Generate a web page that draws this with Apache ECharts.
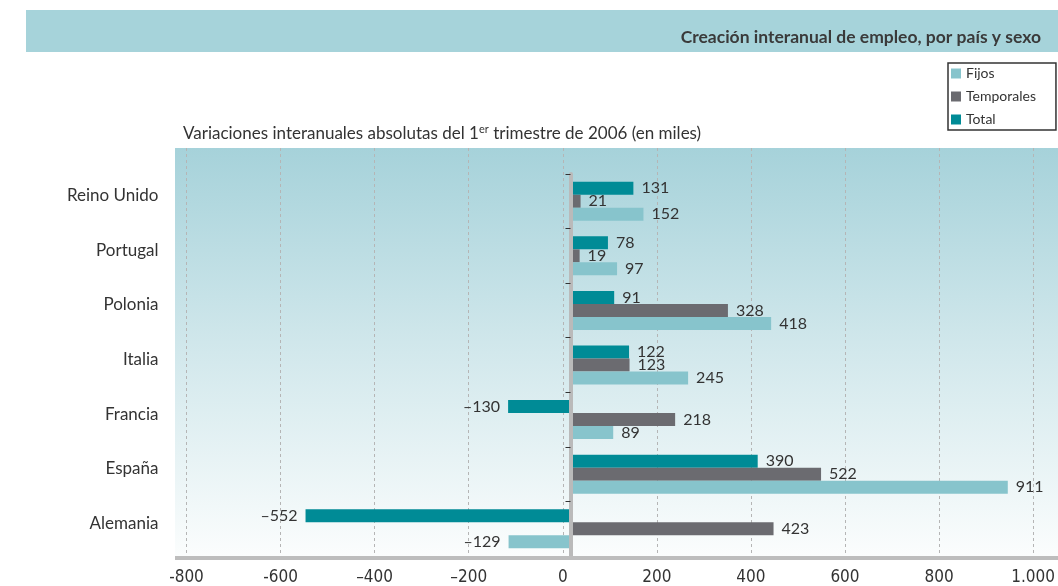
<!DOCTYPE html>
<html lang="es">
<head>
    <meta charset="UTF-8">
    <title>Creación interanual de empleo</title>
    <script src="https://cdn.jsdelivr.net/npm/echarts@6/dist/echarts.min.js"></script>
    <style>
        html, body { margin: 0; padding: 0; background: #fff; }
        #main { width: 1058px; height: 586px; }
    </style>
</head>
<body>
    <div id="main"></div>
    <script type="text/javascript">
        // datos (miles)
        var paises = ['Alemania', 'España', 'Francia', 'Italia', 'Polonia', 'Portugal', 'Reino Unido']
        var fijos = [-129, 911, 89, 245, 418, 97, 152]
        var temporales = [423, 522, 218, 123, 328, 19, 21]
        var total = [-552, 390, -130, 122, 91, 78, 131]
        var ejeX = { min: -800, max: 1000, paso: 200 }

        var colores = { fijos: '#87c4cc', temporales: '#6b6b70', total: '#008b96' }
        var fuente = 'Lato, "Noto Sans", sans-serif'

        var conEtiqueta = arr => arr.map(v => ({
            value: v,
            label: { position: v < 0 ? 'left' : 'right' }
        }))

        var etiquetaBarra = {
            show: true,
            distance: 8,
            fontFamily: fuente,
            fontSize: 16,
            color: '#333',
            formatter: p => String(p.value).replace('-', '–')
        }

        var serie = (nombre, datos, color) => ({
            name: nombre,
            type: 'bar',
            xAxisIndex: 0,
            yAxisIndex: 0,
            barWidth: 13,
            barGap: '0%',
            itemStyle: { color: color },
            label: etiquetaBarra,
            data: conEtiqueta(datos)
        })

        var myChart = echarts.init(document.getElementById('main'))

        var option = {
            animation: false,
            title: [{
                text: 'Creación interanual de empleo, por país y sexo',
                right: 12,
                top: 23,
                textStyle: { fontFamily: fuente, fontSize: 17.5, fontWeight: 'bold', color: '#3a3a3a' }
            }, {
                text: '{n|Variaciones interanuales absolutas del 1}{s|er}{n| trimestre de 2006 (en miles)}',
                left: 178,
                top: 119,
                textStyle: {
                    fontWeight: 'normal',
                    rich: {
                        n: { fontFamily: fuente, fontSize: 17, fontWeight: 'normal', color: '#333', lineHeight: 20 },
                        s: { fontFamily: fuente, fontSize: 11, fontWeight: 'normal', color: '#333', lineHeight: 20, verticalAlign: 'top', padding: [0, 0, 6, 0] }
                    }
                }
            }],
            legend: {
                orient: 'vertical',
                left: 948,
                top: 63,
                data: ['Fijos', 'Temporales', 'Total'],
                icon: 'rect',
                itemWidth: 10,
                itemHeight: 10,
                itemGap: 6,
                padding: [2, 20, 2, 3],
                borderColor: '#333',
                borderWidth: 1.5,
                backgroundColor: '#fff',
                textStyle: { fontFamily: fuente, fontSize: 14, color: '#333', lineHeight: 17 }
            },
            graphic: [{
                type: 'rect',
                z: -10,
                shape: { x: 26, y: 10, width: 1032, height: 42 },
                style: { fill: '#a6d3da' }
            }, {
                type: 'rect',
                z: -10,
                shape: { x: 175, y: 148, width: 883, height: 408 },
                style: {
                    fill: new echarts.graphic.LinearGradient(0, 0, 0, 1, [
                        { offset: 0, color: '#a6d2da' },
                        { offset: 0.5, color: '#d2e8ec' },
                        { offset: 1, color: '#fbfdfd' }
                    ])
                }
            }, {
                type: 'rect',
                z: 10,
                shape: { x: 175, y: 556, width: 883, height: 4 },
                style: { fill: '#bdbdbd' }
            }],
            grid: [
                { left: 186.5, right: 7.5, top: 174, bottom: 30 },
                { left: 186.5, right: 7.5, top: 148, bottom: 30 }
            ],
            xAxis: [{
                gridIndex: 0,
                type: 'value',
                min: ejeX.min,
                max: ejeX.max,
                interval: ejeX.paso,
                axisLine: { show: false },
                axisTick: { show: false },
                axisLabel: { show: false },
                splitLine: { show: false }
            }, {
                gridIndex: 1,
                type: 'value',
                min: ejeX.min,
                max: ejeX.max,
                interval: ejeX.paso,
                axisLine: { show: false },
                axisTick: { show: false },
                axisLabel: {
                    margin: 14,
                    fontFamily: '"Liberation Sans Narrow", "DejaVu Sans Condensed", sans-serif',
                    fontSize: 17,
                    color: '#333',
                    formatter: v => v >= 1000 ? '1.000' : String(v).replace('-', v <= -600 ? '-' : '–')
                },
                splitLine: { show: true, lineStyle: { color: '#b5b5b5', type: [3, 3], width: 1 } }
            }],
            yAxis: [{
                gridIndex: 0,
                type: 'category',
                position: 'left',
                data: paises,
                z: 5,
                axisLine: { show: true, onZero: true, lineStyle: { color: '#bababa', width: 4 } },
                axisTick: { show: true, length: 5, lineStyle: { color: '#333', width: 1 } },
                axisLabel: { show: false }
            }, {
                gridIndex: 0,
                type: 'category',
                position: 'left',
                data: paises,
                axisLine: { show: false, onZero: false },
                axisTick: { show: false },
                axisLabel: {
                    margin: 28,
                    fontFamily: fuente,
                    fontSize: 17,
                    color: '#333',
                    verticalAlign: 'bottom',
                    lineHeight: 11
                }
            }, {
                gridIndex: 1,
                type: 'value',
                show: false
            }],
            series: [
                serie('Total', total, colores.total),
                serie('Temporales', temporales, colores.temporales),
                serie('Fijos', fijos, colores.fijos)
            ]
        }

        myChart.setOption(option)
    </script>
</body>
</html>
